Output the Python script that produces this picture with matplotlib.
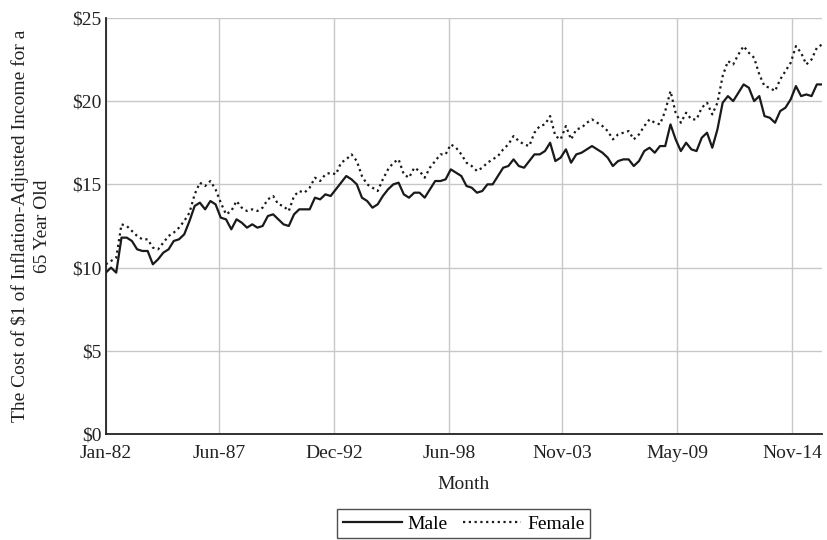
import pandas as pd
import numpy as np
import matplotlib
matplotlib.use('Agg')
import matplotlib.pyplot as plt
import matplotlib.dates as mdates

plt.rcParams['font.family'] = ['Liberation Serif', 'DejaVu Serif']

# quarterly readings, Jan-82 .. Apr-16
male = [9.7, 10.0, 9.7, 11.8, 11.8, 11.6, 11.1, 11.0, 11.0, 10.2,
        10.5, 10.9, 11.1, 11.6, 11.7, 12.0, 12.8, 13.7, 13.9, 13.5,
        14.0, 13.8, 13.0, 12.9, 12.3, 12.9, 12.7, 12.4, 12.6, 12.4,
        12.5, 13.1, 13.2, 12.9, 12.6, 12.5, 13.2, 13.5, 13.5, 13.5,
        14.2, 14.1, 14.4, 14.3, 14.7, 15.1, 15.5, 15.3, 15.0, 14.2,
        14.0, 13.6, 13.8, 14.3, 14.7, 15.0, 15.1, 14.4, 14.2, 14.5,
        14.5, 14.2, 14.7, 15.2, 15.2, 15.3, 15.9, 15.7, 15.5, 14.9,
        14.8, 14.5, 14.6, 15.0, 15.0, 15.5, 16.0, 16.1, 16.5, 16.1,
        16.0, 16.4, 16.8, 16.8, 17.0, 17.5, 16.4, 16.6, 17.1, 16.3,
        16.8, 16.9, 17.1, 17.3, 17.1, 16.9, 16.6, 16.1, 16.4, 16.5,
        16.5, 16.1, 16.4, 17.0, 17.2, 16.9, 17.3, 17.3, 18.6, 17.7,
        17.0, 17.5, 17.1, 17.0, 17.8, 18.1, 17.2, 18.3, 19.9, 20.3,
        20.0, 20.5, 21.0, 20.8, 20.0, 20.3, 19.1, 19.0, 18.7, 19.4,
        19.6, 20.1, 20.9, 20.3, 20.4, 20.3, 21.0, 21.0]
female = [10.2, 10.4, 10.6, 12.6, 12.5, 12.2, 11.9, 11.7, 11.7, 11.2,
          11.1, 11.5, 11.9, 12.1, 12.4, 12.8, 13.3, 14.4, 15.1, 14.9,
          15.2, 14.7, 13.9, 13.2, 13.4, 14.0, 13.6, 13.4, 13.5, 13.4,
          13.6, 14.1, 14.3, 13.8, 13.7, 13.4, 14.3, 14.6, 14.5, 14.8,
          15.4, 15.2, 15.6, 15.7, 15.6, 16.3, 16.5, 16.8, 16.4, 15.5,
          15.0, 14.8, 14.6, 15.3, 15.9, 16.3, 16.5, 15.6, 15.4, 16.0,
          15.8, 15.4, 16.0, 16.4, 16.8, 16.8, 17.4, 17.2, 16.8, 16.3,
          16.1, 15.8, 16.0, 16.3, 16.5, 16.7, 17.1, 17.4, 17.9, 17.6,
          17.4, 17.3, 18.1, 18.5, 18.6, 19.1, 17.9, 17.7, 18.5, 17.7,
          18.3, 18.4, 18.7, 18.9, 18.7, 18.5, 18.2, 17.7, 18.0, 18.1,
          18.2, 17.7, 18.0, 18.5, 18.9, 18.7, 18.6, 19.4, 20.6, 19.3,
          18.7, 19.3, 18.9, 18.9, 19.6, 19.9, 19.2, 19.9, 21.5, 22.4,
          22.2, 22.8, 23.3, 22.9, 22.6, 21.6, 20.9, 20.8, 20.6, 21.3,
          21.8, 22.3, 23.3, 22.9, 22.2, 22.5, 23.2, 23.4]
dates = pd.date_range('1982-01-01', periods=len(male), freq='3MS')

tick_dates = pd.to_datetime(['1982-01-01', '1987-06-01', '1992-12-01', '1998-06-01',
                             '2003-11-01', '2009-05-01', '2014-11-01'])
tick_labels = ['Jan-82', 'Jun-87', 'Dec-92', 'Jun-98', 'Nov-03', 'May-09', 'Nov-14']
y_ticks = [0, 5, 10, 15, 20, 25]

fs = 14

fig = plt.figure(figsize=(8.27, 5.40), dpi=100)
ax = fig.add_axes([0.128, 0.196, 0.866, 0.771])

ax.plot(dates, male, color='#1a1a1a', lw=1.6, label='Male')
ax.plot(dates, female, color='#1a1a1a', lw=1.6, linestyle=(0, (1, 1.6)), label='Female')

ax.set_ylim(0, 25)
ax.set_xlim(dates[0], dates[-1])
ax.set_yticks(y_ticks)
ax.set_yticklabels(['\\$%d' % v for v in y_ticks])
ax.set_xticks(tick_dates)
ax.set_xticklabels(tick_labels)
ax.tick_params(axis='both', length=0, labelsize=fs, colors='#222222')
ax.tick_params(axis='x', pad=8)
ax.tick_params(axis='y', pad=3)

ax.grid(True, color='#c8c8c8', lw=1.0)
ax.set_axisbelow(True)
for s in ['top', 'right']:
    ax.spines[s].set_visible(False)
ax.spines['left'].set_color('#222222')
ax.spines['bottom'].set_color('#222222')
ax.spines['left'].set_linewidth(1.3)
ax.spines['bottom'].set_linewidth(1.3)

ax.set_xlabel('Month', fontsize=fs, color='#222222', labelpad=10)
ax.set_ylabel('The Cost of \\$1 of Inflation-Adjusted Income for a\n65 Year Old',
              fontsize=fs, color='#222222', labelpad=15, linespacing=1.4)

leg = fig.legend(loc='upper center', bbox_to_anchor=(0.561, 0.057), ncol=2,
                 fontsize=fs, frameon=True, fancybox=False, edgecolor='#222222',
                 handlelength=3.0, columnspacing=0.8, handletextpad=0.3,
                 borderpad=0.3, borderaxespad=0)
leg.get_frame().set_linewidth(1.0)

fig.savefig('out.png', dpi=100)
